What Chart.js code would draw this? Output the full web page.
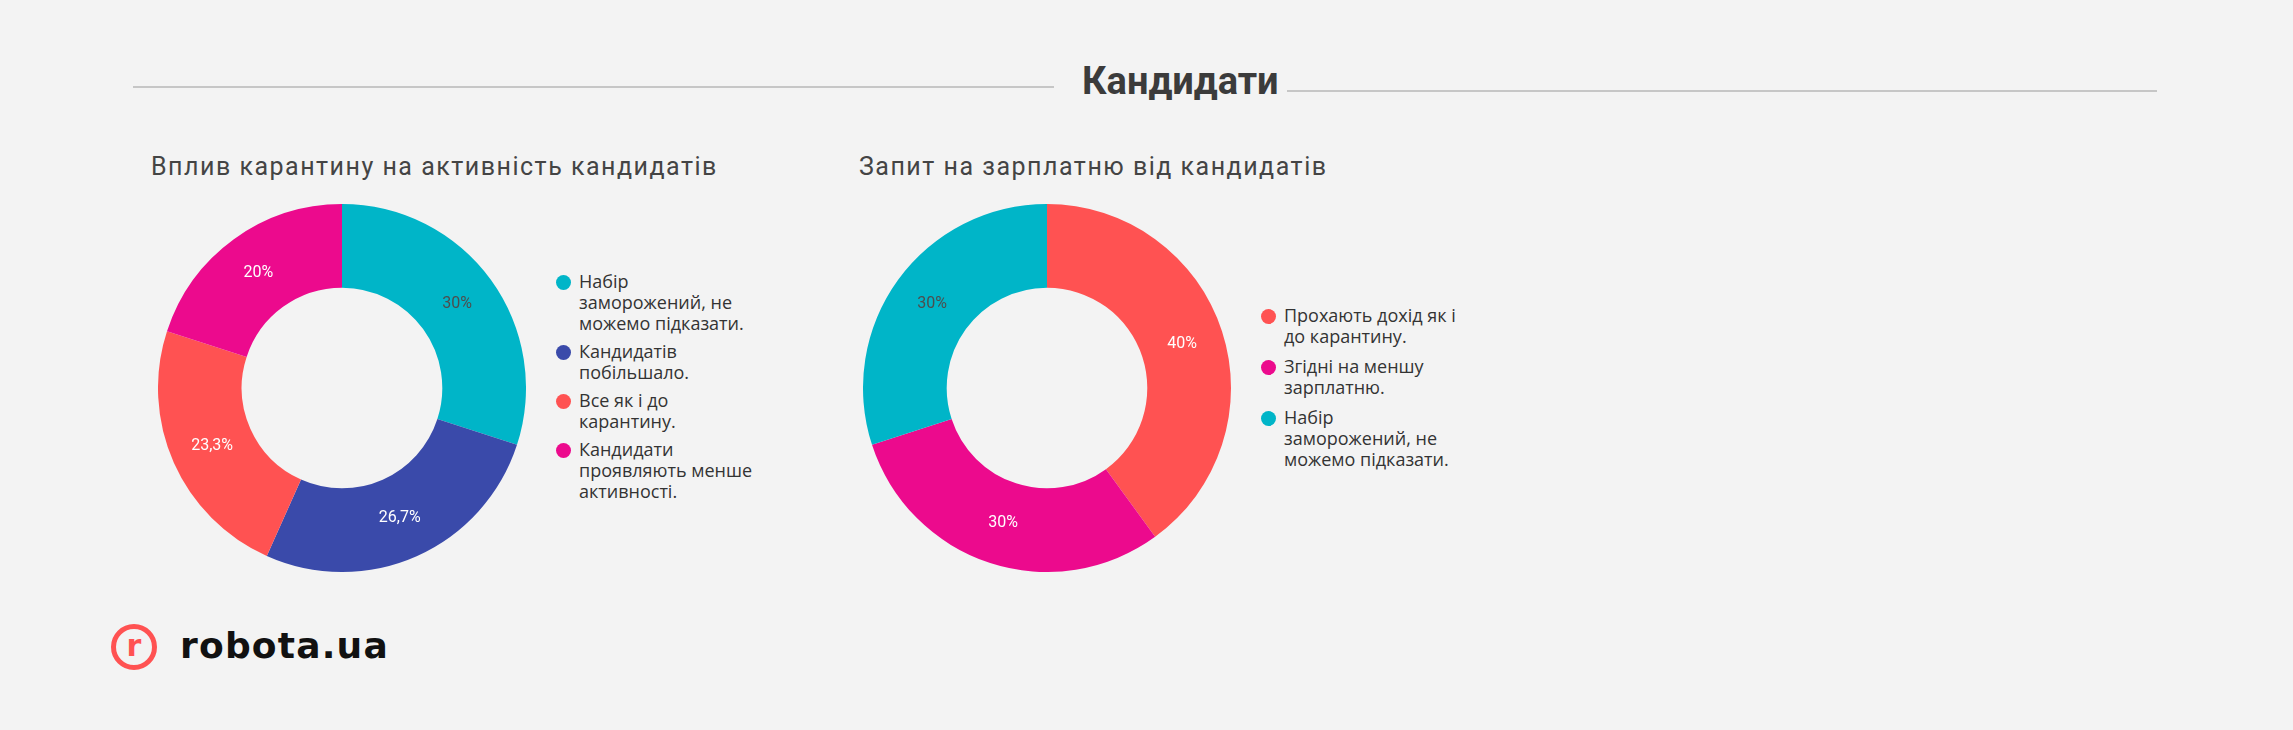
<!DOCTYPE html>
<html>
<head>
<meta charset="utf-8">
<script src="https://cdn.jsdelivr.net/npm/chart.js@4"></script>
<style>
  html, body { margin: 0; padding: 0; }
  body { width: 2293px; height: 730px; background: #f3f3f3; position: relative; overflow: hidden; font-family: Roboto, sans-serif; }
  .abs { position: absolute; }
  .rule { position: absolute; height: 2px; background: #c6c6c6; }
  #header { left: 1082px; top: 57px; font: 700 38px Roboto, sans-serif; color: #3b3b3b; white-space: nowrap; line-height: 48px; }
  .title { font: 400 25px Roboto, sans-serif; letter-spacing: 1.5px; color: #444; white-space: nowrap; line-height: 30px; }
  .box { position: absolute; width: 368px; height: 368px; }
  .legend { position: absolute; font: 400 18px "Open Sans", sans-serif; color: #333; line-height: 21px; }
  .legend .item { position: relative; margin-bottom: 7px; white-space: nowrap; }
  #lg2 .item { margin-bottom: 9px; }
  .legend .dot { position: absolute; width: 15px; height: 15px; border-radius: 50%; left: -23px; top: 4px; }
  #logoRing { left: 111px; top: 624px; width: 36px; height: 36px; border: 5px solid #ff5252; border-radius: 50%; }
  #logoR { left: 111px; top: 624px; width: 46px; height: 46px; text-align: center; font: 700 30px "DejaVu Sans", sans-serif; color: #ff5252; line-height: 44px; }
  #logoText { left: 180px; top: 624px; font: 700 36px "DejaVu Sans", sans-serif; color: #111; letter-spacing: 1.2px; line-height: 44px; }
</style>
</head>
<body>
<div class="rule" style="left:133px; top:86px; width:921px;"></div>
<div class="rule" style="left:1287px; top:90px; width:870px;"></div>
<div id="header" class="abs">Кандидати</div>

<div class="abs title" id="t1" style="left:151px; top:152px;"></div>
<div class="abs title" id="t2" style="left:859px; top:152px;"></div>

<div class="box" style="left:158px; top:204px;"><canvas id="c1"></canvas></div>
<div class="box" style="left:863px; top:204px;"><canvas id="c2"></canvas></div>

<div class="legend" id="lg1" style="left:579px; top:271px;"></div>
<div class="legend" id="lg2" style="left:1284px; top:305px;"></div>

<div class="abs" id="logoRing"></div>
<div class="abs" id="logoR">r</div>
<div class="abs" id="logoText">robota.ua</div>

<script>
// ---- Data ----
const title1 = "Вплив карантину на активність кандидатів";
const categories1 = [
  ["Набір", "заморожений, не", "можемо підказати."],
  ["Кандидатів", "побільшало."],
  ["Все як і до", "карантину."],
  ["Кандидати", "проявляють менше", "активності."]
];
const values1 = [30, 26.7, 23.3, 20];
const colors1 = ["#00b5c8", "#3a4aaa", "#ff5252", "#ec0a8d"];
const labelColors1 = ["#4d4d4d", "#ffffff", "#ffffff", "#ffffff"];

const title2 = "Запит на зарплатню від кандидатів";
const categories2 = [
  ["Прохають дохід як і", "до карантину."],
  ["Згідні на меншу", "зарплатню."],
  ["Набір", "заморожений, не", "можемо підказати."]
];
const values2 = [40, 30, 30];
const colors2 = ["#ff5252", "#ec0a8d", "#00b5c8"];
const labelColors2 = ["#ffffff", "#ffffff", "#4d4d4d"];

// ---- Build ----
document.getElementById('t1').textContent = title1;
document.getElementById('t2').textContent = title2;

function buildLegend(id, cats, colors) {
  const el = document.getElementById(id);
  cats.forEach((lines, i) => {
    const item = document.createElement('div');
    item.className = 'item';
    const dot = document.createElement('span');
    dot.className = 'dot';
    dot.style.background = colors[i];
    item.appendChild(dot);
    lines.forEach((ln, j) => {
      if (j) item.appendChild(document.createElement('br'));
      item.appendChild(document.createTextNode(ln));
    });
    el.appendChild(item);
  });
}
buildLegend('lg1', categories1, colors1);
buildLegend('lg2', categories2, colors2);

const pctLabels = {
  id: 'pctLabels',
  afterDatasetsDraw(chart, args, opts) {
    const ctx = chart.ctx;
    const meta = chart.getDatasetMeta(0);
    const ds = chart.data.datasets[0];
    ctx.save();
    ctx.font = '400 16px Roboto, sans-serif';
    ctx.textAlign = 'center';
    ctx.textBaseline = 'middle';
    meta.data.forEach((arc, i) => {
      const p = arc.tooltipPosition();
      ctx.fillStyle = opts.colors[i];
      ctx.fillText(String(ds.data[i]).replace('.', ',') + '%', p.x, p.y);
    });
    ctx.restore();
  }
};

function makeChart(id, cats, vals, colors, lblColors) {
  return new Chart(document.getElementById(id), {
    type: 'doughnut',
    data: {
      labels: cats.map(l => l.join(' ')),
      datasets: [{ data: vals, backgroundColor: colors, borderWidth: 0, hoverOffset: 0 }]
    },
    options: {
      responsive: true,
      maintainAspectRatio: false,
      animation: false,
      cutout: '54.5%',
      layout: { padding: 0 },
      plugins: {
        legend: { display: false },
        tooltip: { enabled: false },
        pctLabels: { colors: lblColors }
      }
    },
    plugins: [pctLabels]
  });
}
makeChart('c1', categories1, values1, colors1, labelColors1);
makeChart('c2', categories2, values2, colors2, labelColors2);
</script>
</body>
</html>
